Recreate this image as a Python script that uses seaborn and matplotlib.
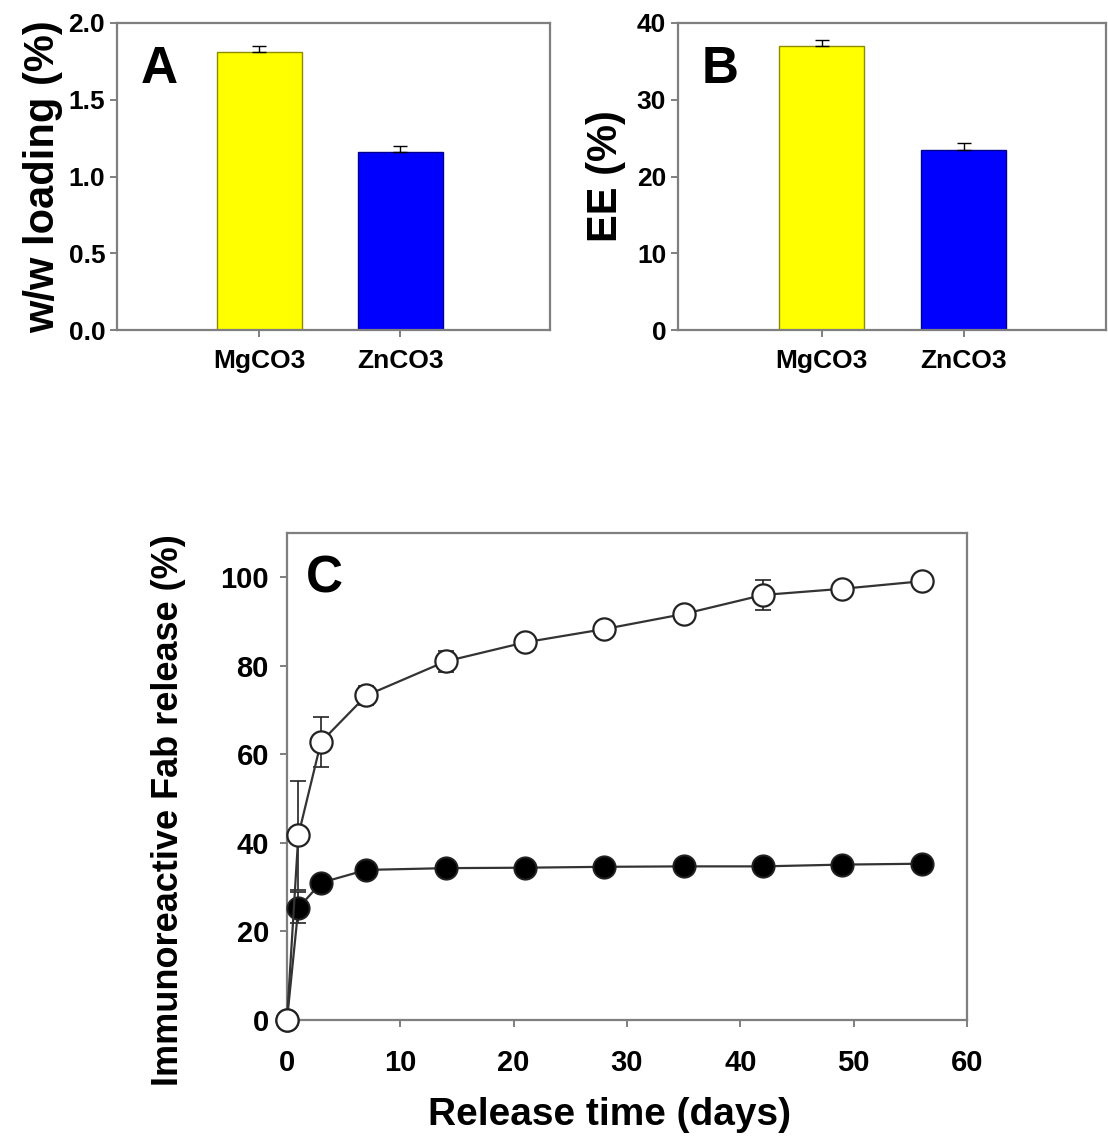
import matplotlib
matplotlib.use("Agg")
import matplotlib.pyplot as plt
import seaborn as sns
import pandas as pd
import numpy as np

# ---- data ----
carriers = ["MgCO3", "ZnCO3"]
loading_vals = [1.81, 1.16]
loading_err = [0.04, 0.04]
ee_vals = [37.0, 23.5]
ee_err = [0.8, 0.8]
bar_colors = ["#FFFF00", "#0000FF"]
bar_edges = ["#8C8C00", "#00008C"]

days = [0, 1, 3, 7, 14, 21, 28, 35, 42, 49, 56]
open_release = [0, 41.7, 62.8, 73.3, 81.0, 85.3, 88.3, 91.7, 96.0, 97.4, 99.1]
open_err = [0, 12.3, 5.7, 2.2, 2.4, 1.0, 1.0, 1.0, 3.4, 1.0, 1.0]
filled_release = [0, 25.3, 31.0, 33.9, 34.3, 34.4, 34.6, 34.7, 34.7, 35.1, 35.3]
filled_err = [0, 3.5, 1.0, 0.8, 0.6, 0.6, 0.6, 0.6, 0.6, 0.6, 0.6]

sns.set_theme(style="white")
plt.rcParams['font.family'] = ['Liberation Sans', 'DejaVu Sans']
plt.rcParams['font.weight'] = 'bold'
for k in ['text.color', 'axes.labelcolor', 'xtick.labelcolor', 'ytick.labelcolor']:
    plt.rcParams[k] = 'black'

fig = plt.figure(figsize=(11.08, 11.44), dpi=100)
W, H = 1108, 1144

def ax_px(l, r, t, b):
    return fig.add_axes([l / W, 1 - b / H, (r - l) / W, (b - t) / H])

spine_col = "#7f7f7f"

def style_ax(ax, lw=1.6):
    for s in ax.spines.values():
        s.set_visible(True)
        s.set_color(spine_col)
        s.set_linewidth(lw)
    ax.tick_params(axis='both', direction='out', length=5, width=1.4,
                   color=spine_col, labelcolor='black',
                   bottom=True, left=True, top=False, right=False)
    ax.grid(False)

def bar_panel(ax, vals, errs, ylim, yticks, fmt, ylabel, letter, xr, lpad):
    df = pd.DataFrame({"carrier": carriers, "value": vals})
    sns.barplot(data=df, x="carrier", y="value", hue="carrier",
                palette=bar_colors, saturation=1, width=0.6, errorbar=None,
                legend=False, ax=ax, linewidth=1.0)
    for p, ec in zip(ax.patches, bar_edges):
        p.set_edgecolor(ec)
    ax.errorbar(range(len(vals)), vals, yerr=[np.zeros(len(vals)), errs],
                fmt='none', ecolor='black', elinewidth=1.0, capsize=5, capthick=1.0)
    ax.set_xlim(*xr)
    ax.set_ylim(*ylim)
    ax.set_yticks(yticks)
    ax.set_yticklabels([fmt.format(v) for v in yticks], fontsize=19, fontweight='bold')
    ax.set_xticks(range(len(carriers)))
    ax.set_xticklabels(carriers, fontsize=19, fontweight='bold')
    ax.tick_params(axis='x', pad=9)
    ax.set_xlabel("")
    ax.set_ylabel(ylabel, fontsize=30, fontweight='bold', labelpad=lpad)
    ax.text(0.055, 0.85, letter, transform=ax.transAxes, fontsize=37,
            fontweight='bold', va='center', ha='left')
    style_ax(ax)

axA = ax_px(117, 550, 23, 330)
bar_panel(axA, loading_vals, loading_err, (0, 2.0), [0, 0.5, 1.0, 1.5, 2.0],
          "{:.1f}", "w/w loading (%)", "A", (-1.01, 2.06), 4)

axB = ax_px(678, 1106, 23, 330)
bar_panel(axB, ee_vals, ee_err, (0, 40), [0, 10, 20, 30, 40],
          "{:.0f}", "EE (%)", "B", (-1.01, 2.0), 8)

# ---- panel C ----
axC = ax_px(287, 967, 533, 1020)
df_open = pd.DataFrame({"day": days, "release": open_release})
df_fill = pd.DataFrame({"day": days, "release": filled_release})
axC.errorbar(days, filled_release, yerr=filled_err, fmt='none', ecolor='#222222',
             elinewidth=1.2, capsize=6, capthick=1.2, zorder=2)
axC.errorbar(days, open_release, yerr=open_err, fmt='none', ecolor='#222222',
             elinewidth=1.2, capsize=6, capthick=1.2, zorder=2)
sns.lineplot(data=df_fill, x="day", y="release", ax=axC, color="#333333",
             linewidth=1.6, marker='o', markersize=16, markerfacecolor='black',
             markeredgecolor='#222222', markeredgewidth=1.4, zorder=3)
sns.lineplot(data=df_open, x="day", y="release", ax=axC, color="#333333",
             linewidth=1.6, marker='o', markersize=16, markerfacecolor='white',
             markeredgecolor='#222222', markeredgewidth=1.6, zorder=4)
for ln in axC.lines:
    ln.set_clip_on(False)
axC.set_xlim(0, 60)
axC.set_ylim(0, 110)
axC.set_xticks(range(0, 61, 10))
axC.set_yticks(range(0, 101, 20))
axC.set_xticklabels([str(v) for v in range(0, 61, 10)], fontsize=21, fontweight='bold')
axC.set_yticklabels([str(v) for v in range(0, 101, 20)], fontsize=21, fontweight='bold')
axC.tick_params(axis='x', pad=16)
axC.tick_params(axis='y', pad=8)
axC.set_xlabel("Release time (days)", fontsize=28, fontweight='bold')
axC.xaxis.set_label_coords(0.475, -0.158)
axC.set_ylabel("Immunoreactive Fab release (%)", fontsize=26, fontweight='bold')
axC.yaxis.set_label_coords(-0.148, 0.43)
axC.text(0.028, 0.905, "C", transform=axC.transAxes, fontsize=37,
         fontweight='bold', va='center', ha='left')
style_ax(axC)

fig.savefig("out.png", dpi=100, facecolor='white')
